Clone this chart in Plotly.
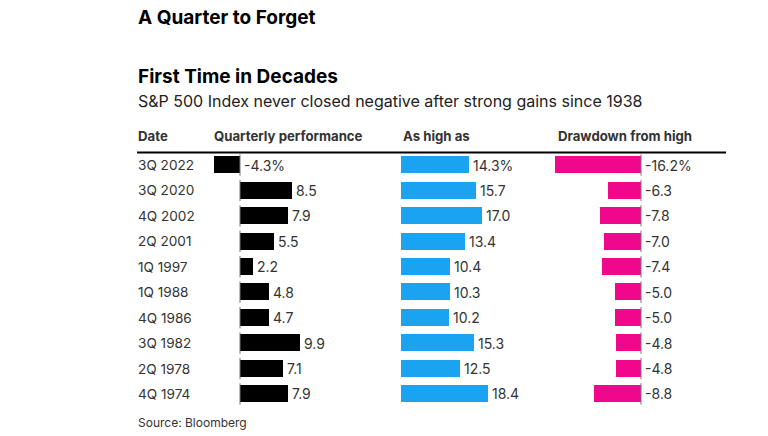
import plotly.graph_objects as go

dates = ["3Q 2022", "3Q 2020", "4Q 2002", "2Q 2001", "1Q 1997",
         "1Q 1988", "4Q 1986", "3Q 1982", "2Q 1978", "4Q 1974"]
quarterly = [-4.3, 8.5, 7.9, 5.5, 2.2, 4.8, 4.7, 9.9, 7.1, 7.9]
as_high = [14.3, 15.7, 17.0, 13.4, 10.4, 10.3, 10.2, 15.3, 12.5, 18.4]
drawdown = [-16.2, -6.3, -7.8, -7.0, -7.4, -5.0, -5.0, -4.8, -4.8, -8.8]
headers = ["Date", "Quarterly performance", "As high as", "Drawdown from high"]

W, H = 768, 436
FONT = "Inter, Roboto, Liberation Sans, sans-serif"
TXT = "#333333"


def px(x):
    return x / W


def py(y):
    return 1 - y / H


def fmt(vals):
    out = []
    for i, v in enumerate(vals):
        s = f"{v:.1f}"
        if i == 0:
            s += "%"
        out.append(s)
    return out


fig = go.Figure()

cols = [
    (quarterly, "#000000", "x", (200, 380), (-40 / 6.1, 140 / 6.1), True),
    (as_high, "#1aa3f0", "x2", (401, 540), (0, 139 / 4.75), False),
    (drawdown, "#f0078c", "x3", (545, 730), (-96 / 5.3, 89 / 5.3), True),
]

shapes = []
ann = []
for vals, color, xa, dom, rng, zline in cols:
    fig.add_trace(go.Bar(
        x=vals, y=dates, orientation="h", marker=dict(color=color, line=dict(width=0)),
        width=0.67, xaxis=xa, yaxis="y", hoverinfo="skip", showlegend=False,
    ))
    for d, v, t in zip(dates, vals, fmt(vals)):
        ann.append(dict(text=t, x=max(v, 0), y=d, xref=xa, yref="y",
                        xanchor="left", yanchor="middle", xshift=2, showarrow=False,
                        font=dict(family=FONT, size=14, color=TXT)))
    if zline:
        for i in range(len(dates)):
            shapes.append(dict(type="line", xref=xa, yref="y", x0=0, x1=0,
                               y0=i - 0.42, y1=i + 0.42,
                               line=dict(color="#777777", width=1)))

shapes.append(dict(type="line", xref="paper", yref="paper",
                   x0=px(137), x1=px(726), y0=py(152.5), y1=py(152.5),
                   line=dict(color="#000000", width=2)))

ydom = [py(406.7), py(152.3)]
layout = dict(
    width=W, height=H, margin=dict(l=0, r=0, t=0, b=0),
    paper_bgcolor="white", plot_bgcolor="white",
    bargap=0, showlegend=False, shapes=shapes,
    yaxis=dict(domain=ydom, type="category", categoryarray=dates,
               range=[9.5, -0.5], visible=False, fixedrange=True),
)
for vals, color, xa, dom, rng, zline in cols:
    key = "xaxis" if xa == "x" else "xaxis" + xa[1:]
    layout[key] = dict(domain=[px(dom[0]), px(dom[1])], range=list(rng),
                       visible=False, anchor="y", fixedrange=True)
fig.update_layout(**layout)

ann.append(dict(text="<b>A Quarter to Forget</b>", x=px(136), y=py(18), xref="paper", yref="paper",
                xanchor="left", yanchor="middle", showarrow=False,
                font=dict(family=FONT, size=19, color="#000000")))
ann.append(dict(text="<b>First Time in Decades</b>", x=px(136), y=py(76), xref="paper", yref="paper",
                xanchor="left", yanchor="middle", showarrow=False,
                font=dict(family=FONT, size=19, color="#000000")))
ann.append(dict(text="S&P 500 Index never closed negative after strong gains since 1938",
                x=px(136), y=py(101), xref="paper", yref="paper",
                xanchor="left", yanchor="middle", showarrow=False,
                font=dict(family=FONT, size=16, color="#222222")))
for h, xp in zip(headers, [136, 212, 401, 556]):
    ann.append(dict(text="<b>" + h + "</b>", x=px(xp), y=py(136), xref="paper", yref="paper",
                    xanchor="left", yanchor="middle", showarrow=False,
                    font=dict(family=FONT, size=13.2, color=TXT)))
for d in dates:
    ann.append(dict(text=d, x=px(136), y=d, xref="paper", yref="y",
                    xanchor="left", yanchor="middle", showarrow=False,
                    font=dict(family=FONT, size=13.6, color=TXT)))
ann.append(dict(text="Source: Bloomberg", x=px(136), y=py(422), xref="paper", yref="paper",
                xanchor="left", yanchor="middle", showarrow=False,
                font=dict(family=FONT, size=12, color=TXT)))
fig.update_layout(annotations=ann)

fig.write_html("out.html", config={"displayModeBar": False},
               post_script="document.body.style.margin='0';document.body.style.overflow='hidden';")
